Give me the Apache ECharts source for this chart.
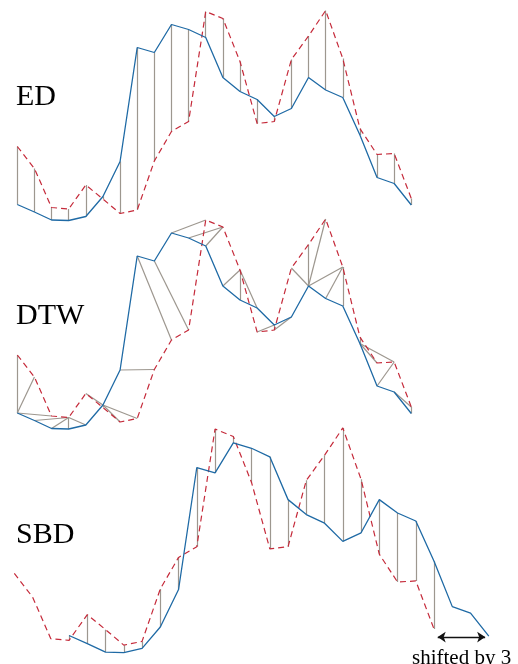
<!DOCTYPE html>
<html>
<head>
<meta charset="utf-8">
<script src="https://cdn.jsdelivr.net/npm/echarts@6/dist/echarts.min.js"></script>
<style>
  html, body { margin: 0; padding: 0; background: #fff; }
  #chart { width: 518px; height: 664px; }
</style>
</head>
<body>
<div id="chart"></div>
<script>
// the two series (z-normalized)
const seriesBlue = [-1.69, -1.84, -2.00, -2.01, -1.93, -1.53, -0.83, 1.45, 1.35, 1.91, 1.81, 1.65,
                    0.85, 0.57, 0.41, 0.07, 0.23, 0.85, 0.60, 0.45, -0.30, -1.15, -1.27, -1.70];
const seriesRed = [-0.53, -0.97, -1.75, -1.78, -1.30, -1.58, -1.87, -1.80, -0.82, -0.23, -0.03, 2.17,
                   2.03, 1.17, -0.07, -0.03, 1.21, 1.68, 2.19, 1.23, -0.17, -0.69, -0.67, -1.57];
// DTW warping path: [blue index, red index]
const dtwPath = [[0,0],[0,1],[0,2],[1,3],[2,3],[3,3],[4,3],[5,4],[5,5],[5,6],[5,7],[6,8],[7,9],
                 [8,10],[9,11],[10,12],[11,12],[12,13],[13,13],[14,13],[15,14],[15,15],[16,15],
                 [17,16],[17,17],[17,18],[17,19],[18,19],[19,19],[20,20],[20,21],[20,22],[21,22],
                 [22,23],[23,23]];
const sbdShift = 3;
const panelNames = ['ED', 'DTW', 'SBD'];

const blue = '#1f6aa5';
const red = '#c52a3a';
const gray = '#9d978f';

const chart = echarts.init(document.getElementById('chart'));

function pts(arr, shift) {
  return arr.map((v, i) => [i + shift, v]);
}

// connecting lines for each panel
const edLinks = seriesBlue.map((b, i) => ({ coords: [[i, seriesRed[i]], [i, b]] }));
const dtwLinks = dtwPath.map(p => ({ coords: [[p[1], seriesRed[p[1]]], [p[0], seriesBlue[p[0]]]] }));
const sbdLinks = [];
for (let j = sbdShift; j < seriesRed.length; j++) {
  sbdLinks.push({ coords: [[j, seriesRed[j]], [j, seriesBlue[j - sbdShift]]] });
}

const series = [];
const links = [edLinks, dtwLinks, sbdLinks];
for (let g = 0; g < 3; g++) {
  series.push({
    type: 'lines', coordinateSystem: 'cartesian2d', xAxisIndex: g, yAxisIndex: g,
    data: links[g], silent: true,
    lineStyle: { color: gray, width: 1.2, opacity: 1 }
  });
  series.push({
    type: 'line', xAxisIndex: g, yAxisIndex: g, data: pts(seriesRed, 0),
    symbol: 'none', silent: true,
    lineStyle: { color: red, width: 1.2, type: [6, 4] }
  });
  series.push({
    type: 'line', xAxisIndex: g, yAxisIndex: g,
    data: pts(seriesBlue, g === 2 ? sbdShift : 0),
    symbol: 'none', silent: true,
    lineStyle: { color: blue, width: 1.3 }
  });
}
// "shifted by 3" arrow
series.push({
  type: 'lines', coordinateSystem: 'cartesian2d', xAxisIndex: 2, yAxisIndex: 2, silent: true,
  symbol: ['arrow', 'arrow'], symbolSize: 8,
  data: [{ coords: [[23.2, -1.72], [25.8, -1.72]] }],
  lineStyle: { color: '#111', width: 1.3, opacity: 1 }
});

const option = {
  animation: false,
  grid: [
    { left: 17.3, top: 0, width: 394, height: 230 },
    { left: 17.3, top: 208.5, width: 394, height: 230 },
    { left: 14.3, top: 416.7, width: 474.5, height: 246.1 }
  ],
  xAxis: [
    { type: 'value', gridIndex: 0, min: 0, max: 23, show: false },
    { type: 'value', gridIndex: 1, min: 0, max: 23, show: false },
    { type: 'value', gridIndex: 2, min: 0, max: 26, show: false }
  ],
  yAxis: [
    { type: 'value', gridIndex: 0, min: -2.2, max: 2.4, show: false },
    { type: 'value', gridIndex: 1, min: -2.2, max: 2.4, show: false },
    { type: 'value', gridIndex: 2, min: -2.2, max: 2.4, show: false }
  ],
  graphic: [
    { type: 'text', left: 16, top: 82, style: { text: panelNames[0], font: '30px "Liberation Serif"', fill: '#000' } },
    { type: 'text', left: 16, top: 301, style: { text: panelNames[1], font: '30px "Liberation Serif"', fill: '#000' } },
    { type: 'text', left: 16, top: 520, style: { text: panelNames[2], font: '30px "Liberation Serif"', fill: '#000' } },
    { type: 'text', left: 412, top: 648, style: { text: 'shifted by ' + sbdShift, font: '21px "Liberation Serif"', fill: '#000' } }
  ],
  series: series
};
chart.setOption(option);
</script>
</body>
</html>
